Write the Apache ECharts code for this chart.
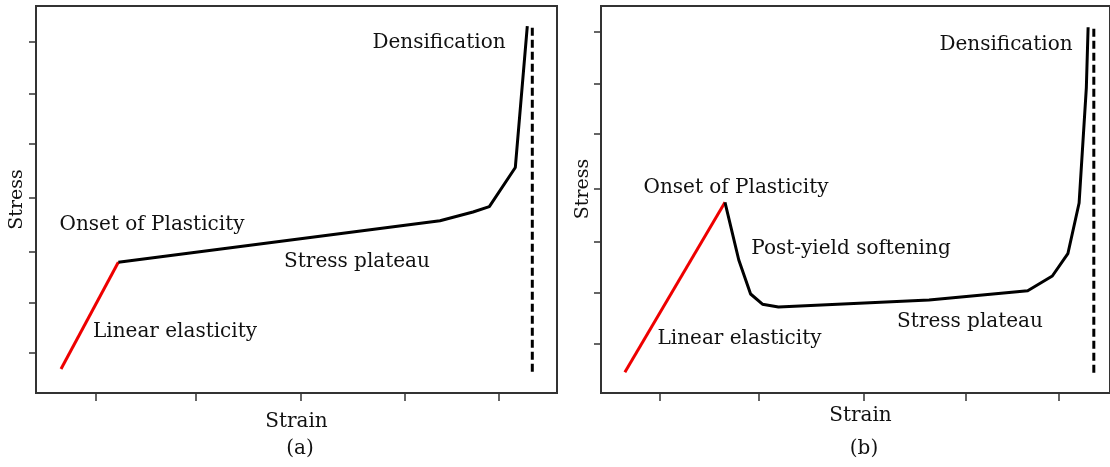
<!DOCTYPE html>
<html>
<head>
<meta charset="utf-8">
<title>Stress–strain behaviour of cellular solids</title>
<script src="https://cdn.jsdelivr.net/npm/echarts@6/dist/echarts.min.js"></script>
<style>
  html, body { margin: 0; padding: 0; background: #fff; overflow: hidden; }
  #chart { width: 1110px; height: 467px; }
</style>
</head>
<body>
<div id="chart"></div>
<script>
// Panel (a): elastic rise, gently rising plateau, densification
const aElasticStrain = [4.80, 15.80];
const aElasticStress = [6.20, 33.77];
const aPlateauStrain = [15.80, 77.54, 83.88, 87.01, 92.00, 94.30];
const aPlateauStress = [33.77, 44.52, 46.77, 48.14, 58.27, 94.83];
const aLimitStrain = [95.26, 95.26];
const aLimitStress = [5.50, 94.65];

// Panel (b): elastic rise, yield peak, softening, plateau, densification
const bElasticStrain = [4.69, 24.36];
const bElasticStress = [5.35, 49.28];
const bPlateauStrain = [24.36, 27.07, 29.39, 31.72, 34.86, 64.45, 83.83, 88.67, 91.72, 93.93, 95.35, 95.70];
const bPlateauStress = [49.28, 34.37, 25.58, 22.95, 22.22, 24.03, 26.43, 30.23, 35.99, 49.10, 78.86, 94.50];
const bLimitStrain = [96.82, 96.82];
const bLimitStress = [5.22, 94.32];

// Unlabelled tick positions on each axis
const aStrainTicks = [11.52, 30.71, 50.81, 70.77, 88.73];
const aStressTicks = [10.41, 23.33, 36.51, 50.47, 64.34, 77.35, 90.78];
const bStrainTicks = [11.52, 31.05, 51.56, 71.74, 89.98];
const bStressTicks = [12.84, 25.92, 39.10, 52.89, 66.93, 79.84, 93.36];

const axisTitleX = 'Strain';
const axisTitleY = 'Stress';
const panelTags = ['(a)', '(b)'];
const aNotes = ['Densification', 'Onset of Plasticity', 'Stress plateau', 'Linear elasticity'];
const bNotes = ['Densification', 'Onset of Plasticity', 'Post-yield softening', 'Stress plateau', 'Linear elasticity'];

const FONT = "'DejaVu Serif', serif";
const INK = '#111';
const FRAME = '#333';

const pairs = (xs, ys) => xs.map((x, i) => [x, ys[i]]);

function makeXAxis(gridIndex, ticks, gap, pad) {
  return {
    type: 'value', gridIndex, min: 0, max: 100,
    name: axisTitleX, nameLocation: 'middle', nameGap: gap,
    nameTextStyle: { fontFamily: FONT, fontSize: 20, color: INK, padding: pad },
    axisLine: { show: false },
    axisTick: { show: true, inside: false, length: 8, customValues: ticks, lineStyle: { color: FRAME, width: 1.5 } },
    axisLabel: { show: false },
    splitLine: { show: false }
  };
}
function makeYAxis(gridIndex, ticks, gap, pad) {
  return {
    type: 'value', gridIndex, min: 0, max: 100,
    name: axisTitleY, nameLocation: 'middle', nameGap: gap,
    nameTextStyle: { fontFamily: FONT, fontSize: 19, color: INK, padding: pad },
    axisLine: { show: false },
    axisTick: { show: true, inside: false, length: 7, customValues: ticks, lineStyle: { color: FRAME, width: 1.5 } },
    axisLabel: { show: false },
    splitLine: { show: false }
  };
}
function curve(name, idx, data, color, dash) {
  return {
    name, type: 'line', xAxisIndex: idx, yAxisIndex: idx, data,
    symbol: 'none', smooth: false, animation: false, silent: true,
    lineStyle: { color, width: 3, type: dash || 'solid', join: 'round', cap: 'butt' }
  };
}
function note(text, x, y) {
  return {
    type: 'text', x, y, silent: true,
    style: { text, font: '20px ' + FONT, fill: INK, align: 'center', verticalAlign: 'middle' }
  };
}

const chart = echarts.init(document.getElementById('chart'), null, { renderer: 'canvas' });
chart.setOption({
  backgroundColor: '#fff',
  animation: false,
  grid: [
    { left: 36, top: 6, width: 521, height: 387, show: true, borderColor: FRAME, borderWidth: 2, backgroundColor: 'transparent' },
    { left: 601, top: 6, width: 512, height: 387, show: true, borderColor: FRAME, borderWidth: 2, backgroundColor: 'transparent' }
  ],
  xAxis: [makeXAxis(0, aStrainTicks, 19, [0, 0, 0, 0]), makeXAxis(1, bStrainTicks, 13, [0, 0, 0, 10])],
  yAxis: [makeYAxis(0, aStressTicks, 9, [0, 0, 0, 0]), makeYAxis(1, bStressTicks, 8, [0, 0, 0, 21])],
  series: [
    curve('a elastic', 0, pairs(aElasticStrain, aElasticStress), '#ee0000'),
    curve('a plateau', 0, pairs(aPlateauStrain, aPlateauStress), '#000'),
    curve('a limit', 0, pairs(aLimitStrain, aLimitStress), '#000', [8, 4]),
    curve('b elastic', 1, pairs(bElasticStrain, bElasticStress), '#ee0000'),
    curve('b plateau', 1, pairs(bPlateauStrain, bPlateauStress), '#000'),
    curve('b limit', 1, pairs(bLimitStrain, bLimitStress), '#000', [8, 4])
  ],
  graphic: [
    note(aNotes[0], 439, 42.5),
    note(aNotes[1], 152, 224.5),
    note(aNotes[2], 357, 261.5),
    note(aNotes[3], 175, 332),
    note(bNotes[0], 1006, 44.5),
    note(bNotes[1], 736, 188),
    note(bNotes[2], 851, 249),
    note(bNotes[3], 970, 321.5),
    note(bNotes[4], 739.5, 339),
    note(panelTags[0], 300, 449),
    note(panelTags[1], 864, 449)
  ]
});
</script>
</body>
</html>
